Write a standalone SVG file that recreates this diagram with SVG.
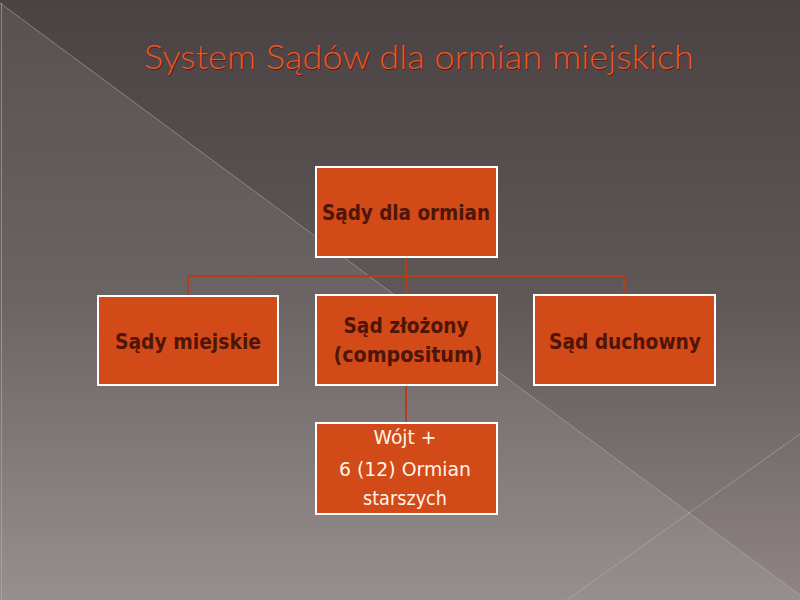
<svg xmlns="http://www.w3.org/2000/svg" width="800" height="600" viewBox="0 0 800 600">
<defs>
<linearGradient id="bg" x1="0" y1="0" x2="0" y2="1">
<stop offset="0" stop-color="#4a4243"/>
<stop offset="0.5" stop-color="#605757"/>
<stop offset="1" stop-color="#8f8585"/>
</linearGradient>
<style>
.box{fill:#d24a17;stroke:#ffffff;stroke-width:2}
.lbl{font-family:"DejaVu Sans","Liberation Sans",sans-serif;font-weight:bold;font-size:21px;fill:#4e1508;text-anchor:middle}
.lbl2{font-family:"DejaVu Sans","Liberation Sans",sans-serif;font-size:19px;fill:#fff4ea;text-anchor:middle}
.con{fill:none;stroke:#b0401a;stroke-width:2}
.deco{stroke:#b9b0ae;stroke-width:1;opacity:0.55;fill:none}
.title{font-family:Lato,"Open Sans","Liberation Sans",sans-serif;font-weight:300;font-size:33px;text-anchor:start}
</style>
</defs>
<rect x="0" y="0" width="800" height="600" fill="url(#bg)"/>
<polygon points="0,3 800,595 800,600 0,600" fill="#ffffff" opacity="0.08"/>
<line class="deco" x1="0" y1="3" x2="800" y2="595"/>
<line class="deco" x1="567" y1="600" x2="800" y2="434"/>
<line class="deco" x1="1.5" y1="3" x2="1.5" y2="600" opacity="0.25"/>

<g id="title">
<text class="title" x="144" y="69" textLength="550" lengthAdjust="spacingAndGlyphs" fill="#5a1c0c" dx="1" dy="1">System Sądów dla ormian miejskich</text>
<text class="title" x="144" y="69" textLength="550" lengthAdjust="spacingAndGlyphs" fill="#e8582c">System Sądów dla ormian miejskich</text>
</g>

<g id="connectors">
<path class="con" d="M406,257 V295"/>
<path class="con" d="M188,295 V276 H624 V295"/>
<path class="con" d="M406,386 V422"/>
</g>

<g id="node-root">
<rect class="box" x="316" y="167" width="181" height="90"/>
<text class="lbl" x="406" y="220" textLength="168" lengthAdjust="spacingAndGlyphs">Sądy dla ormian</text>
</g>
<g id="node-miejskie">
<rect class="box" x="98" y="296" width="180" height="89"/>
<text class="lbl" x="188" y="349" textLength="146" lengthAdjust="spacingAndGlyphs">Sądy miejskie</text>
</g>
<g id="node-zlozony">
<rect class="box" x="316" y="295" width="181" height="90"/>
<text class="lbl" x="406" y="333" textLength="125" lengthAdjust="spacingAndGlyphs">Sąd złożony</text>
<text class="lbl" x="408" y="362" textLength="149" lengthAdjust="spacingAndGlyphs">(compositum)</text>
</g>
<g id="node-duchowny">
<rect class="box" x="534" y="295" width="181" height="90"/>
<text class="lbl" x="625" y="349" textLength="152" lengthAdjust="spacingAndGlyphs">Sąd duchowny</text>
</g>
<g id="node-wojt">
<rect class="box" x="316" y="423" width="181" height="91"/>
<text class="lbl2" x="405" y="444" textLength="63" lengthAdjust="spacingAndGlyphs">Wójt +</text>
<text class="lbl2" x="405" y="476" textLength="132" lengthAdjust="spacingAndGlyphs">6 (12) Ormian</text>
<text class="lbl2" x="405" y="505" textLength="84" lengthAdjust="spacingAndGlyphs">starszych</text>
</g>
</svg>
